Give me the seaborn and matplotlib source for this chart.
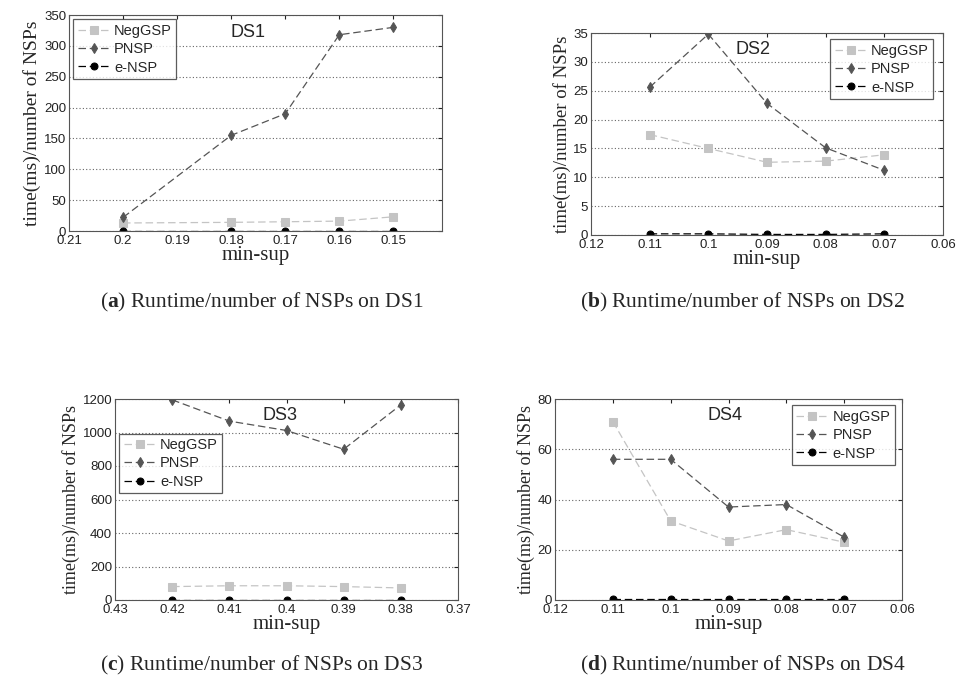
import matplotlib
matplotlib.use("Agg")
import matplotlib.pyplot as plt
import seaborn as sns
import pandas as pd

sns.set_style("white")
plt.rcParams['font.family'] = ['Liberation Sans', 'DejaVu Sans']
plt.rcParams['mathtext.fontset'] = 'custom'
plt.rcParams['mathtext.rm'] = 'Liberation Serif'
plt.rcParams['mathtext.bf'] = 'Liberation Serif:bold'

# ---- data ----
series_names = ["NegGSP", "PNSP", "e-NSP"]

ds1_x = [0.20, 0.18, 0.17, 0.16, 0.15]
ds1_neggsp = [13, 14, 15, 16, 23]
ds1_pnsp = [22, 155, 190, 318, 330]
ds1_ensp = [0.8, 0.8, 0.8, 0.8, 0.8]

ds2_x = [0.11, 0.10, 0.09, 0.08, 0.07]
ds2_neggsp = [17.4, 15.0, 12.6, 12.8, 13.9]
ds2_pnsp = [25.6, 34.8, 22.8, 15.1, 11.2]
ds2_ensp = [0.2, 0.2, 0.1, 0.1, 0.2]

ds3_x = [0.42, 0.41, 0.40, 0.39, 0.38]
ds3_neggsp = [80, 85, 85, 80, 72]
ds3_pnsp = [1195, 1068, 1012, 900, 1165]
ds3_ensp = [2, 2, 2, 2, 2]

ds4_x = [0.11, 0.10, 0.09, 0.08, 0.07]
ds4_neggsp = [71, 31.5, 23.5, 28, 23]
ds4_pnsp = [56, 56, 37, 38, 25]
ds4_ensp = [0.3, 0.3, 0.3, 0.3, 0.3]

ds1_xticks = [0.21, 0.20, 0.19, 0.18, 0.17, 0.16, 0.15]
ds1_xticklabels = ["0.21", "0.2", "0.19", "0.18", "0.17", "0.16", "0.15"]
ds2_xticks = [0.12, 0.11, 0.10, 0.09, 0.08, 0.07, 0.06]
ds2_xticklabels = ["0.12", "0.11", "0.1", "0.09", "0.08", "0.07", "0.06"]
ds3_xticks = [0.43, 0.42, 0.41, 0.40, 0.39, 0.38, 0.37]
ds3_xticklabels = ["0.43", "0.42", "0.41", "0.4", "0.39", "0.38", "0.37"]
ds4_xticks = ds2_xticks
ds4_xticklabels = ds2_xticklabels

ds1_yticks = [0, 50, 100, 150, 200, 250, 300, 350]
ds2_yticks = [0, 5, 10, 15, 20, 25, 30, 35]
ds3_yticks = [0, 200, 400, 600, 800, 1000, 1200]
ds4_yticks = [0, 20, 40, 60, 80]

titles = ["DS1", "DS2", "DS3", "DS4"]
captions_letter = ["a", "b", "c", "d"]
captions_text = ["Runtime/number of NSPs on DS1", "Runtime/number of NSPs on DS2",
                 "Runtime/number of NSPs on DS3", "Runtime/number of NSPs on DS4"]

colors = {"NegGSP": "#c4c4c4", "PNSP": "#555555", "e-NSP": "#000000"}
markers = {"NegGSP": "s", "PNSP": "d", "e-NSP": "o"}
msizes = {"NegGSP": 5.5, "PNSP": 5.5, "e-NSP": 5}

W, H = 956, 687
fig = plt.figure(figsize=(W / 100, H / 100), dpi=100)


def axes_px(l, t, r, b):
    return fig.add_axes([l / W, 1 - b / H, (r - l) / W, (b - t) / H])


panels = [
    dict(box=(69, 15, 442, 231), x=ds1_x, ys=[ds1_neggsp, ds1_pnsp, ds1_ensp],
         xlim=(0.21, 0.141), ylim=(0, 350), xt=ds1_xticks, xtl=ds1_xticklabels, yt=ds1_yticks,
         leg=dict(loc="upper left", bbox_to_anchor=(0.0, 1.0)), title_x=0.48, ylfs=14),
    dict(box=(591, 33, 943, 235), x=ds2_x, ys=[ds2_neggsp, ds2_pnsp, ds2_ensp],
         xlim=(0.12, 0.06), ylim=(0, 35), xt=ds2_xticks, xtl=ds2_xticklabels, yt=ds2_yticks,
         leg=dict(loc="upper right", bbox_to_anchor=(0.985, 0.99)), title_x=0.46, ylfs=13.5),
    dict(box=(115, 399, 458, 600), x=ds3_x, ys=[ds3_neggsp, ds3_pnsp, ds3_ensp],
         xlim=(0.43, 0.37), ylim=(0, 1200), xt=ds3_xticks, xtl=ds3_xticklabels, yt=ds3_yticks,
         leg=dict(loc="upper left", bbox_to_anchor=(0.0, 0.85)), title_x=0.48, ylfs=13),
    dict(box=(555, 399, 902, 600), x=ds4_x, ys=[ds4_neggsp, ds4_pnsp, ds4_ensp],
         xlim=(0.12, 0.06), ylim=(0, 80), xt=ds4_xticks, xtl=ds4_xticklabels, yt=ds4_yticks,
         leg=dict(loc="upper right", bbox_to_anchor=(0.992, 0.99)), title_x=0.49, ylfs=13),
]

for i, p in enumerate(panels):
    ax = axes_px(*p["box"])
    for name, yv in zip(series_names, p["ys"]):
        df = pd.DataFrame({"x": p["x"], "y": yv})
        sns.lineplot(data=df, x="x", y="y", ax=ax, color=colors[name], marker=markers[name],
                     markersize=msizes[name], markeredgecolor=colors[name],
                     linestyle=(0, (6, 3)), linewidth=0.9, label=name, sort=False)
    ax.set_xlim(*p["xlim"])
    ax.set_ylim(*p["ylim"])
    ax.set_xticks(p["xt"])
    ax.set_xticklabels(p["xtl"])
    ax.set_yticks(p["yt"])
    ax.tick_params(direction="in", length=3, top=True, right=True, labelsize=9.5,
                   pad=2, colors="#222222")
    ax.tick_params(axis="x", pad=3)
    ax.yaxis.grid(True, linestyle=(0, (1, 2)), color="#666666", linewidth=0.8)
    ax.xaxis.grid(False)
    for s in ax.spines.values():
        s.set_color("#555555")
        s.set_linewidth(0.8)
    ax.set_xlabel("min-sup", family=["Liberation Serif", "DejaVu Serif"], fontsize=15, labelpad=-1)
    ax.set_ylabel("time(ms)/number of NSPs", family=["Liberation Serif", "DejaVu Serif"],
                  fontsize=p["ylfs"], labelpad=2)
    ax.text(p["title_x"], 0.92, titles[i], transform=ax.transAxes, ha="center", va="center",
            fontsize=13)
    leg = ax.legend(**p["leg"], frameon=True, fancybox=False, fontsize=10.5, handlelength=2.2,
                    handletextpad=0.3, borderpad=0.3, labelspacing=0.3, borderaxespad=0.3)
    leg.get_frame().set_edgecolor("#333333")
    leg.get_frame().set_linewidth(0.9)

# captions
cap_pos = [(262, 302), (743, 302), (262, 665), (743, 665)]
for (cx, cy), letter, txt in zip(cap_pos, captions_letter, captions_text):
    fig.text(cx / W, 1 - cy / H, "(" + r"$\mathbf{" + letter + r"}$" + ") " + txt,
             ha="center", va="center", fontsize=15.5,
             family=["Liberation Serif", "DejaVu Serif"])

fig.savefig("out.png", dpi=100)
